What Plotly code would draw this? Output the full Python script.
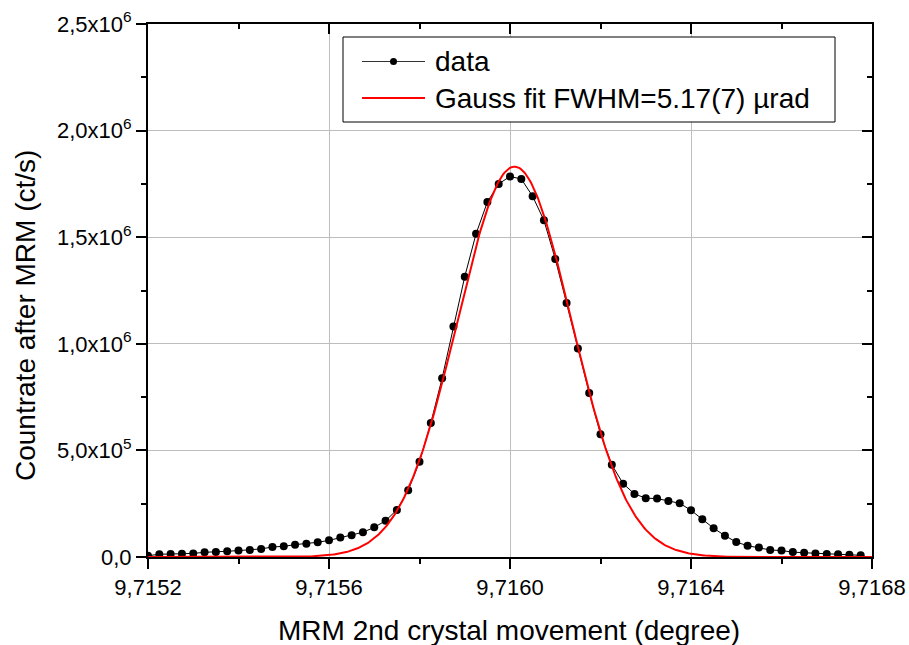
import numpy as np
import plotly.graph_objects as go

# Rocking curve of the MRM second crystal
angle_start = 9.7152
angle_step = 0.000025
countrate = [
    6e3, 13e3, 14e3, 15e3, 17e3, 22e3, 23e3, 27e3, 30e3, 33e3,
    38e3, 47e3, 50e3, 58e3, 62e3, 69e3, 78e3, 91e3, 102e3, 116e3,
    139e3, 170e3, 221e3, 313e3, 447e3, 628e3, 839e3, 1081e3, 1315e3, 1516e3,
    1665e3, 1750e3, 1785e3, 1773e3, 1692e3, 1579e3, 1398e3, 1191e3, 978e3, 769e3,
    576e3, 433e3, 344e3, 296e3, 276e3, 274e3, 263e3, 252e3, 219e3, 177e3,
    135e3, 100e3, 70e3, 53e3, 44e3, 33e3, 30e3, 23e3, 20e3, 17e3,
    14e3, 13e3, 11e3, 8e3,
]
angle = [angle_start + i * angle_step for i in range(len(countrate))]

# Gaussian fit parameters
fit_center = 9.71601          # degree
fit_amplitude = 1.831e6       # ct/s
fit_fwhm_urad = 5.17          # micro-radian

x_ticks = [9.7152, 9.7156, 9.7160, 9.7164, 9.7168]
x_tick_text = ["9,7152", "9,7156", "9,7160", "9,7164", "9,7168"]
y_ticks = [0, 0.5e6, 1.0e6, 1.5e6, 2.0e6, 2.5e6]
y_tick_text = ["0,0", "5,0x10<sup>5</sup>", "1,0x10<sup>6</sup>",
               "1,5x10<sup>6</sup>", "2,0x10<sup>6</sup>", "2,5x10<sup>6</sup>"]

fwhm_deg = np.degrees(fit_fwhm_urad * 1e-6)
sigma = fwhm_deg / (2 * np.sqrt(2 * np.log(2)))
fit_x = np.linspace(x_ticks[0], x_ticks[-1], 600)
fit_y = fit_amplitude * np.exp(-0.5 * ((fit_x - fit_center) / sigma) ** 2)

W, H = 909, 645
L, R, T, B = 148, 872, 24, 557
FONT = "Liberation Sans, Arial, sans-serif"
TICK_SIZE = 22
TITLE_SIZE = 28


def px(xp):
    return (xp - L) / (R - L)


def py(yp):
    return (B - yp) / (B - T)


fig = go.Figure()
fig.add_trace(go.Scatter(
    x=angle, y=countrate, mode="lines+markers", name="data",
    line=dict(color="black", width=1),
    marker=dict(color="black", size=8), showlegend=False,
))
fig.add_trace(go.Scatter(
    x=fit_x, y=fit_y, mode="lines", name="Gauss fit",
    line=dict(color="#ff0000", width=2), showlegend=False,
))
# frame axes on top and right
fig.add_trace(go.Scatter(x=[None], y=[None], xaxis="x2", yaxis="y2",
                         showlegend=False, hoverinfo="skip"))

axis_common = dict(showline=True, linecolor="black", linewidth=2,
                   tickcolor="black", tickwidth=2, zeroline=False,
                   automargin=False)

fig.update_layout(
    width=W, height=H,
    margin=dict(l=L, r=W - R, t=T, b=H - B),
    paper_bgcolor="white", plot_bgcolor="white",
    font=dict(family=FONT, color="black"),
    xaxis=dict(
        range=[x_ticks[0], x_ticks[-1]], tickvals=x_ticks, ticktext=x_tick_text,
        ticks="outside", ticklen=10, showgrid=True, gridcolor="#bdbdbd", gridwidth=1,
        minor=dict(dtick=0.0002, ticks="outside", ticklen=5, tickwidth=2,
                   tickcolor="black", showgrid=False),
        tickfont=dict(size=TICK_SIZE),
        **axis_common,
    ),
    yaxis=dict(
        range=[0, 2.5e6], tickvals=y_ticks, ticktext=y_tick_text,
        ticks="outside", ticklen=10, showgrid=True, gridcolor="#bdbdbd", gridwidth=1,
        minor=dict(dtick=0.25e6, ticks="outside", ticklen=5, tickwidth=2,
                   tickcolor="black", showgrid=False),
        tickfont=dict(size=TICK_SIZE),
        **axis_common,
    ),
    xaxis2=dict(
        overlaying="x", side="top", range=[x_ticks[0], x_ticks[-1]],
        tickvals=x_ticks, showticklabels=False, ticks="inside", ticklen=10,
        showgrid=False,
        minor=dict(dtick=0.0002, ticks="inside", ticklen=5, tickwidth=2,
                   tickcolor="black", showgrid=False),
        **axis_common,
    ),
    yaxis2=dict(
        overlaying="y", side="right", range=[0, 2.5e6],
        tickvals=y_ticks, showticklabels=False, ticks="inside", ticklen=10,
        showgrid=False,
        minor=dict(dtick=0.25e6, ticks="inside", ticklen=5, tickwidth=2,
                   tickcolor="black", showgrid=False),
        **axis_common,
    ),
)

# legend box
row1, row2 = 61.5, 98
shapes = [
    dict(type="rect", xref="paper", yref="paper", x0=px(343), x1=px(835),
         y0=py(122), y1=py(37), line=dict(color="black", width=1), fillcolor="white"),
    dict(type="line", xref="paper", yref="paper", x0=px(362), x1=px(425),
         y0=py(row1), y1=py(row1), line=dict(color="#333333", width=1)),
    dict(type="circle", xref="paper", yref="paper", x0=px(390), x1=px(397),
         y0=py(row1 + 3.5), y1=py(row1 - 3.5), line=dict(color="black", width=0),
         fillcolor="black"),
    dict(type="line", xref="paper", yref="paper", x0=px(362), x1=px(425),
         y0=py(row2), y1=py(row2), line=dict(color="#ff0000", width=2)),
]
annotations = [
    dict(text="data", xref="paper", yref="paper", x=px(433), y=py(row1),
         xanchor="left", yanchor="middle", showarrow=False,
         font=dict(size=TITLE_SIZE)),
    dict(text="Gauss fit FWHM=5.17(7) \u00b5rad", xref="paper", yref="paper",
         x=px(433), y=py(row2), xanchor="left", yanchor="middle", showarrow=False,
         font=dict(size=TITLE_SIZE)),
    # axis titles
    dict(text="MRM 2nd crystal movement (degree)", xref="paper", yref="paper",
         x=px(509), y=py(630), xanchor="center", yanchor="middle",
         showarrow=False, font=dict(size=TITLE_SIZE)),
    dict(text="Countrate after MRM (ct/s)", xref="paper", yref="paper",
         x=px(25), y=py(316), xanchor="center", yanchor="middle", textangle=-90,
         showarrow=False, font=dict(size=TITLE_SIZE)),
]
fig.update_layout(shapes=shapes, annotations=annotations)

fig.write_html("out.html")
